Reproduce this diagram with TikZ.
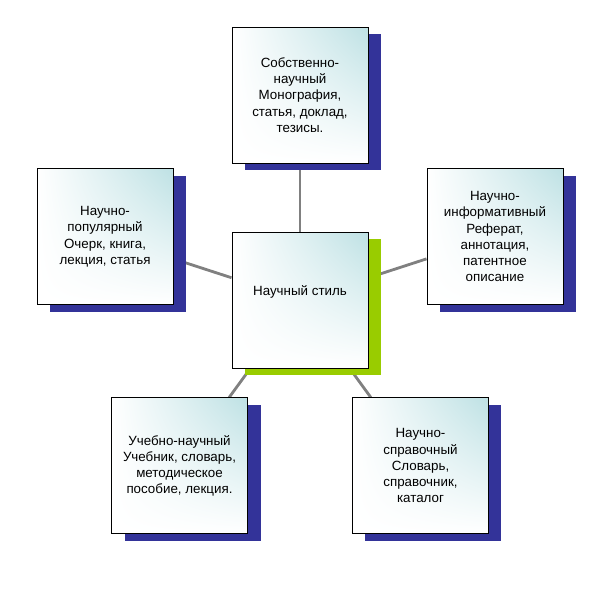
\documentclass[tikz,border=0pt]{standalone}
\usepackage{fontspec}
\setmainfont{Liberation Sans}
\usetikzlibrary{shadows,shadings,backgrounds}
\definecolor{boxteal}{RGB}{190,225,228}
\definecolor{shadownavy}{RGB}{51,51,153}
\definecolor{shadowgreen}{RGB}{153,204,0}
\definecolor{linkgray}{RGB}{128,128,128}
\tikzset{
    genrebox/.style={draw=black, line width=0.6pt, minimum width=3.4cm, minimum height=3.4cm,
        align=center, font=\fontsize{9.5}{11.6}\selectfont,
        upper left=white, upper right=boxteal, lower left=white, lower right=white},
    navyshadow/.style={drop shadow={shadow xshift=0.325cm, shadow yshift=-0.175cm, fill=shadownavy, opacity=1}},
    greenshadow/.style={drop shadow={shadow xshift=0.325cm, shadow yshift=-0.175cm, fill=shadowgreen, opacity=1}},
    link/.style={linkgray, line width=2pt}
}

\begin{document}
\begin{tikzpicture}
        \useasboundingbox (-7.5,-7.5) rectangle (7.5,7.5);
        \node[genrebox,greenshadow,text depth=0.45cm] (style) at (0,0) {Научный стиль};
        \node[genrebox,navyshadow] (proper) at (90:5.125) {Собственно-\\научный\\Монография,\\статья, доклад,\\тезисы.};
        \node[genrebox,navyshadow] (popular) at (162:5.125) {Научно-\\популярный\\Очерк, книга,\\лекция, статья};
        \node[genrebox,navyshadow] (inform) at (18:5.125) {Научно-\\информативный\\Реферат,\\аннотация,\\патентное\\описание};
        \node[genrebox,navyshadow] (educ) at (234:5.125) {Учебно-научный\\Учебник, словарь,\\методическое\\пособие, лекция.};
        \node[genrebox,navyshadow] (refer) at (306:5.125) {Научно-\\справочный\\Словарь,\\справочник,\\каталог};
        \begin{scope}[on background layer]
            \draw[link] (style) -- (proper);
            \draw[link] (style) -- (popular);
            \draw[link] (style) -- (inform);
            \draw[link] (style) -- (educ);
            \draw[link] (style) -- (refer);
        \end{scope}
\end{tikzpicture}
\end{document}
